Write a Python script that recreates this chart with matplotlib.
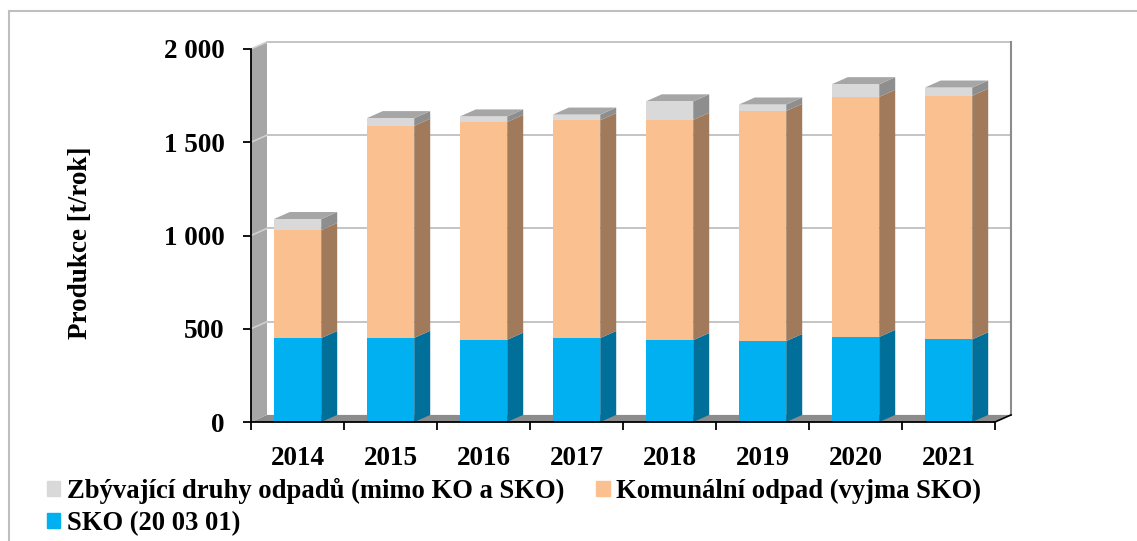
import matplotlib.pyplot as plt
from matplotlib.patches import Polygon, Rectangle, Patch
from matplotlib.lines import Line2D
from matplotlib.ticker import FuncFormatter

plt.rcParams['font.family'] = ['Liberation Serif', 'DejaVu Serif']
plt.rcParams['font.weight'] = 'bold'

years = ['2014', '2015', '2016', '2017', '2018', '2019', '2020', '2021']
sko = [450, 451, 441, 450, 439, 434, 456, 443]
komunalni = [579, 1137, 1168, 1168, 1181, 1234, 1287, 1306]
zbyvajici = [59, 41, 29, 30, 99, 34, 68, 44]

lbl_zby = 'Zbývající druhy odpadů (mimo KO a SKO)'
lbl_kom = 'Komunální odpad (vyjma SKO)'
lbl_sko = 'SKO (20 03 01)'

# front / side colours for each series, top face colour
c_sko = ('#00B0F0', '#00709A')
c_kom = ('#FAC090', '#A07A5A')
c_zby = ('#D9D9D9', '#8E8E8E')
c_top = '#A6A6A6'

ymax = 2000
dx, dy = 0.172, 38      # 3D depth offset (category units, value units)
w = 0.51

fig = plt.figure(figsize=(11.37, 5.41), dpi=100)
ax = fig.add_axes([251/1137, 1 - 422/541, 744/1137, 373/541])
ax.set_xlim(-0.5, len(years) - 0.5)
ax.set_ylim(0, ymax)

x0, x1 = -0.5, len(years) - 0.5

# back wall
ax.add_patch(Rectangle((x0 + dx, dy), x1 - x0, ymax, facecolor='white',
                       edgecolor='none', clip_on=False, zorder=0))
for v in range(500, ymax + 1, 500):
    ax.add_line(Line2D([x0 + dx, x1 + dx], [v + dy, v + dy], color='#BFBFBF',
                       lw=1.3, clip_on=False, zorder=1))
ax.add_line(Line2D([x1 + dx, x1 + dx], [dy, ymax + dy], color='#8C8C8C',
                   lw=1.5, clip_on=False, zorder=1))

# floor
ax.add_patch(Polygon([(x0, 0), (x1, 0), (x1 + dx, dy), (x0 + dx, dy)],
                     closed=True, facecolor='#8C8C8C', edgecolor='none',
                     clip_on=False, zorder=2))
ax.add_line(Line2D([x1, x1 + dx], [0, dy], color='black', lw=1.2,
                   clip_on=False, zorder=2))

# left wall
ax.add_patch(Polygon([(x0, 0), (x0 + dx, dy), (x0 + dx, ymax + dy), (x0, ymax)],
                     closed=True, facecolor='#A6A6A6', edgecolor='none',
                     clip_on=False, zorder=2))
for v in range(500, ymax + 1, 500):
    ax.add_line(Line2D([x0, x0 + dx], [v, v + dy], color='#D0D0D0',
                       lw=1.2, clip_on=False, zorder=2))

# stacked bars with side and top faces
xs = list(range(len(years)))
bottom = [0] * len(years)
for vals, cols in [(sko, c_sko), (komunalni, c_kom), (zbyvajici, c_zby)]:
    ax.bar(xs, vals, width=w, bottom=bottom, color=cols[0], zorder=4)
    for i in xs:
        b = bottom[i]
        t = b + vals[i]
        r = i + w / 2
        ax.add_patch(Polygon([(r, b), (r + dx, b + dy), (r + dx, t + dy), (r, t)],
                             closed=True, facecolor=cols[1], edgecolor='none',
                             clip_on=False, zorder=3))
    bottom = [bottom[i] + vals[i] for i in xs]

for i in xs:
    t = bottom[i]
    l, r = i - w / 2, i + w / 2
    ax.add_patch(Polygon([(l, t), (r, t), (r + dx, t + dy), (l + dx, t + dy)],
                         closed=True, facecolor=c_top, edgecolor='none',
                         clip_on=False, zorder=3))

# axes
for s in ['top', 'right']:
    ax.spines[s].set_visible(False)
for s in ['left', 'bottom']:
    ax.spines[s].set_color('black')
    ax.spines[s].set_linewidth(1.3)
    ax.spines[s].set_zorder(5)

ax.set_yticks(range(0, ymax + 1, 500))
ax.yaxis.set_major_formatter(FuncFormatter(lambda v, p: f'{v:,.0f}'.replace(',', ' ')))
ax.tick_params(axis='y', length=6, width=1.3, pad=13, labelsize=19.5)

ax.set_xticks([i - 0.5 for i in range(len(years) + 1)])
ax.set_xticklabels([])
ax.set_xticks(xs, minor=True)
ax.set_xticklabels(years, minor=True)
ax.tick_params(axis='x', which='major', length=6, width=1.3)
ax.tick_params(axis='x', which='minor', length=0, pad=17.5, labelsize=19.5)

fig.text(80/1137, 1 - 243/541, 'Produkce [t/rok]', rotation=90, ha='center',
         va='center', fontsize=19.5, fontweight='bold')

handles = [Patch(color=c_zby[0], label=lbl_zby), Patch(color=c_sko[0], label=lbl_sko),
           Patch(color=c_kom[0], label=lbl_kom)]
fig.legend(handles=handles, ncol=2, loc='upper left',
           bbox_to_anchor=(47/1137, 1 - 478/541), frameon=False, fontsize=19.2,
           handlelength=0.5, handleheight=0.5, handletextpad=0.25,
           columnspacing=1.2, labelspacing=0.25, borderpad=0, borderaxespad=0)

# outer frame
fig.add_artist(Rectangle((9/1137, -0.05), 1.2, 1.05 - 11/541, transform=fig.transFigure,
                         fill=False, edgecolor='#BFBFBF', lw=1.5))

fig.savefig('out.png', dpi=100)
